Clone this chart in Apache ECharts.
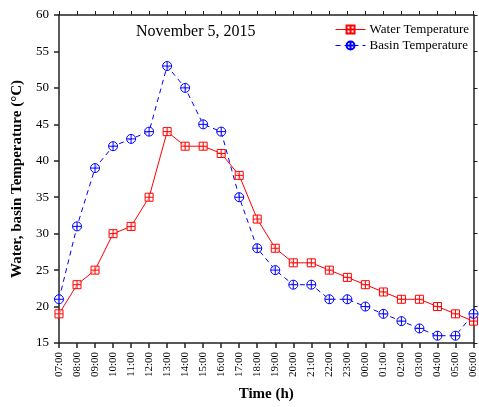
<!DOCTYPE html>
<html><head><meta charset="utf-8">
<script src="https://cdn.jsdelivr.net/npm/echarts@6/dist/echarts.min.js"></script>
<style>html,body{margin:0;padding:0;background:#fff}#c{width:479px;height:407px}</style>
</head><body><div id="c"></div>
<script>
const categories = ['07:00','08:00','09:00','10:00','11:00','12:00','13:00','14:00','15:00','16:00','17:00','18:00','19:00','20:00','21:00','22:00','23:00','00:00','01:00','02:00','03:00','04:00','05:00','06:00'];
const waterTemp = [19,23,25,30,31,35,44,42,42,41,38,32,28,26,26,25,24,23,22,21,21,20,19,18];
const basinTemp = [21,31,39,42,43,44,53,50,45,44,35,28,25,23,23,21,21,20,19,18,17,16,16,19];
const yTicks = {min:15, max:60, interval:5};
const titleText = 'November 5, 2015';
const seriesNames = ['Water Temperature','Basin Temperature'];

const FONT = '"Liberation Serif", "Times New Roman", serif';
const squarePlus = 'path://M0,0L10,0L10,10L0,10ZM5,0L5,10M0,5L10,5';
const circlePlus = 'path://M0,5A5,5,0,1,1,10,5A5,5,0,1,1,0,5ZM5,0L5,10M0,5L10,5';
const axisLineStyle = {color:'#222', width:1.5};

const chart = echarts.init(document.getElementById('c'), null, {renderer:'canvas'});
chart.setOption({
  animation:false,
  backgroundColor:'#fff',
  textStyle:{fontFamily:FONT},
  title:{text:titleText, left:131, top:19, textStyle:{fontFamily:FONT, fontSize:16, fontWeight:'normal', color:'#000'}},
  legend:{orient:'vertical', right:5, top:18, itemWidth:30, itemHeight:10, itemGap:3,
    lineStyle:{width:1},
    textStyle:{fontFamily:FONT, fontSize:13, color:'#000', padding:[0,0,0,-1]},
    data:seriesNames},
  grid:{left:59, right:3, top:15, bottom:58},
  xAxis:[{
    type:'category', data:categories, boundaryGap:false,
    name:'Time (h)', nameLocation:'middle', nameGap:44,
    nameTextStyle:{fontFamily:FONT, fontSize:15, fontWeight:'bold', color:'#000'},
    axisLine:{lineStyle:axisLineStyle}, axisTick:{length:5, lineStyle:axisLineStyle, interval:0},
    axisLabel:{rotate:90, fontSize:11, color:'#000', margin:9, interval:0, fontFamily:FONT},
    splitLine:{show:false}
  },{
    type:'category', data:categories, boundaryGap:false, position:'top',
    axisLine:{lineStyle:axisLineStyle}, axisTick:{length:4, lineStyle:{color:'#222', width:1}, interval:0},
    axisLabel:{show:false}, splitLine:{show:false}
  }],
  yAxis:[{
    type:'value', min:yTicks.min, max:yTicks.max, interval:yTicks.interval,
    name:'Water, basin Temperature (°C)', nameLocation:'middle', nameGap:33,
    nameTextStyle:{fontFamily:FONT, fontSize:15, fontWeight:'bold', color:'#000'},
    axisLine:{show:true, lineStyle:axisLineStyle}, axisTick:{show:true, length:5, lineStyle:axisLineStyle},
    axisLabel:{fontSize:13, color:'#000', margin:10, fontFamily:FONT},
    splitLine:{show:false}
  },{
    type:'value', min:yTicks.min, max:yTicks.max, interval:yTicks.interval, position:'right',
    axisLine:{show:true, lineStyle:axisLineStyle}, axisTick:{show:true, length:4, lineStyle:{color:'#222', width:1}},
    axisLabel:{show:false}, splitLine:{show:false}
  }],
  series:[{
    name:seriesNames[0], type:'line', data:waterTemp,
    symbol:squarePlus, symbolSize:8, symbolKeepAspect:true, showAllSymbol:true,
    lineStyle:{color:'#ff0000', width:1},
    itemStyle:{color:'rgba(255,255,255,0.6)', borderColor:'#ff0000', borderWidth:1}
  },{
    name:seriesNames[1], type:'line', data:basinTemp,
    symbol:circlePlus, symbolSize:9, symbolKeepAspect:true, showAllSymbol:true,
    lineStyle:{color:'#0000ff', width:1, type:[5,4]},
    itemStyle:{color:'rgba(255,255,255,0.6)', borderColor:'#0000ff', borderWidth:1}
  }]
});
</script></body></html>
